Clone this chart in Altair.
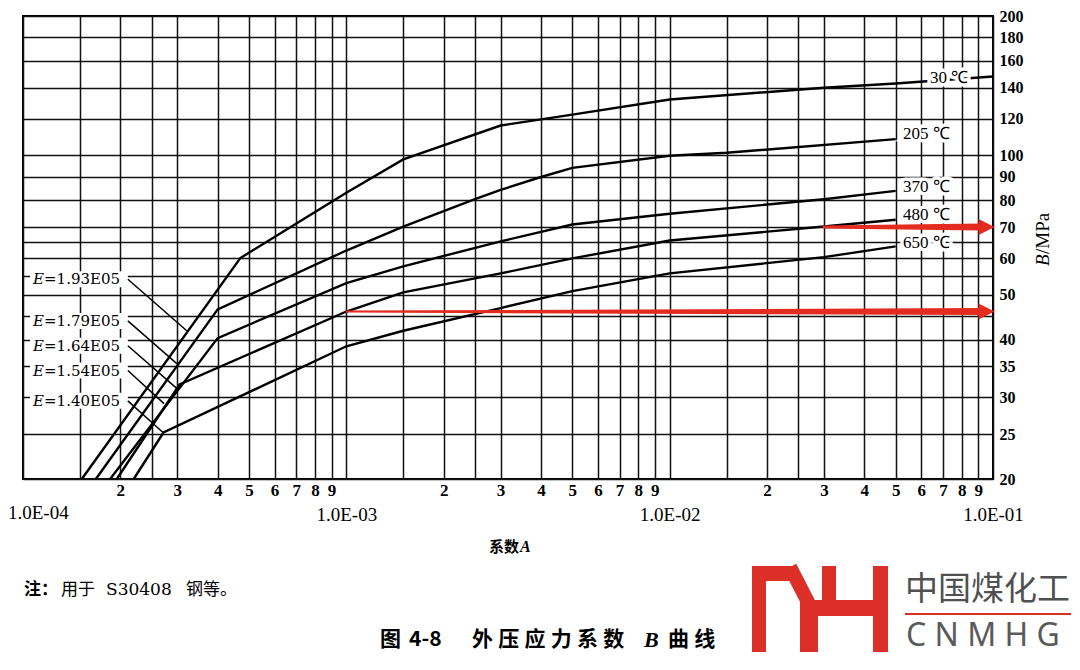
import json
import altair as alt
import pandas as pd

# ---------------- data ----------------
temp_labels = ["30 ℃", "205 ℃", "370 ℃", "480 ℃", "650 ℃"]
e_values = ["=1.93E05", "=1.79E05", "=1.64E05", "=1.54E05", "=1.40E05"]

A_30 = [1.52e-4, 4.7e-4, 1.0e-3, 1.5e-3, 3.0e-3, 4.0e-3, 5.0e-3, 1.0e-2, 3.0e-2, 5.0e-2, 1.0e-1]
B_30 = [20.0, 60.0, 83.0, 98.0, 116.0, 119.6, 122.5, 132.0, 140.0, 143.0, 148.0]
A_205 = [1.68e-4, 4.0e-4, 1.0e-3, 1.5e-3, 2.5e-3, 3.0e-3, 4.0e-3, 5.0e-3, 1.0e-2, 1.5e-2, 5.0e-2]
B_205 = [20.0, 46.5, 62.3, 70.2, 80.4, 84.2, 89.8, 94.0, 99.8, 101.3, 108.4]
A_370 = [1.86e-4, 4.0e-4, 1.0e-3, 1.5e-3, 3.0e-3, 5.0e-3, 1.0e-2, 3.0e-2, 5.0e-2]
B_370 = [20.0, 40.3, 53.0, 57.6, 65.2, 70.9, 74.8, 80.4, 83.8]
A_480 = [1.95e-4, 3.05e-4, 1.0e-3, 1.5e-3, 3.0e-3, 5.0e-3, 1.0e-2, 3.0e-2, 5.0e-2]
B_480 = [20.0, 32.0, 46.0, 50.6, 55.6, 59.9, 65.5, 70.2, 72.6]
A_650 = [2.2e-4, 2.72e-4, 1.0e-3, 1.5e-3, 3.0e-3, 5.0e-3, 1.0e-2, 3.0e-2, 5.0e-2]
B_650 = [20.0, 25.2, 38.7, 41.8, 46.8, 50.9, 55.6, 60.3, 63.6]

curve_A = [A_30, A_205, A_370, A_480, A_650]
curve_B = [B_30, B_205, B_370, B_480, B_650]

temp_label_A = [0.0638, 0.0527, 0.0527, 0.0527, 0.0527]
temp_label_B = [147.2, 111.1, 85.5, 74.5, 64.8]

e_label_A = 1.074e-4
e_label_B = [54.0, 43.9, 38.8, 34.3, 29.5]
e_leader_A0 = 2.11e-4
e_leader_A1 = [3.21e-4, 2.99e-4, 3.02e-4, 2.73e-4, 2.71e-4]
e_leader_B1 = [41.8, 35.5, 31.2, 29.1, 25.2]

arrow_B = [46.0, 70.0]
arrow_A0 = [1.0e-3, 3.0e-2]
arrow_A1 = 0.092
arrow_head_A = 0.0955
arrow_w0 = [2.0, 3.0]
arrow_w1 = 7.0

x_decades = [1e-4, 1e-3, 1e-2, 1e-1]
x_decade_labels = ["1.0E-04", "1.0E-03", "1.0E-02", "1.0E-01"]
x_mantissas = [1, 1.5, 2, 2.5, 3, 4, 5, 6, 7, 8, 9]
x_digit_labels = ["", "", "2", "", "3", "4", "5", "6", "7", "8", "9"]
y_grid_values = [20, 25, 30, 35, 40, 45, 50, 55, 60, 65, 70, 80, 90, 100, 120, 140, 160, 180, 200]
y_tick_labels = ["20", "25", "30", "35", "40", "", "50", "", "60", "", "70", "80", "90",
                 "100", "120", "140", "160", "180", "200"]

# ---------------- layout ----------------
W, H = 970, 463
OX, OY = 23, 16          # page position of the plot's top-left corner
def rx(px): return px - OX
def ry(py): return py - OY

RED = "#e42b20"
SERIF = "Liberation Serif"
CJK = "Noto Sans CJK SC"

# ---------------- axes ----------------
x_vals, x_labs = [], []
for d, dl in zip(x_decades[:-1], x_decade_labels[:-1]):
    for m, lab in zip(x_mantissas, x_digit_labels):
        x_vals.append(m * d)
        if m == 1:
            # the first decade label sits against the page edge: drawn separately below
            x_labs.append("" if d == x_decades[0] else ["", dl])
        else:
            x_labs.append(lab)
x_vals.append(x_decades[-1])
x_labs.append(["", x_decade_labels[-1]])

x_expr = "''"
for v, lab in reversed(list(zip(x_vals, x_labs))):
    x_expr = f"abs(datum.value / {v!r} - 1) < 1e-6 ? {json.dumps(lab)} : ({x_expr})"

y_expr = "''"
for v, lab in reversed(list(zip(y_grid_values, y_tick_labels))):
    y_expr = f"abs(datum.value / {v} - 1) < 1e-6 ? {json.dumps(lab)} : ({y_expr})"

is_dec = "abs(log(datum.value)/LN10 - round(log(datum.value)/LN10)) < 1e-6"

x_axis = alt.Axis(
    values=x_vals, labelExpr=x_expr, grid=True, gridColor="#111111", gridWidth=1.5,
    gridOpacity=1, ticks=False, domain=False, labelFlush=False, labelOverlap=False,
    labelFont=SERIF, labelColor="black", labelPadding=3, labelLineHeight=23,
    labelFontSize={"condition": {"test": is_dec, "value": 19}, "value": 17},
    labelFontWeight={"condition": {"test": is_dec, "value": "normal"}, "value": "bold"},
    title=None,
)
y_axis = alt.Axis(
    orient="right", values=y_grid_values, labelExpr=y_expr, grid=True, gridColor="#111111",
    gridWidth=1.5, gridOpacity=1, ticks=False, domain=False, labelFlush=False,
    labelOverlap=False, labelFont=SERIF, labelFontSize=16, labelFontWeight="bold",
    labelColor="black", labelPadding=6, title=None,
)
xs = alt.Scale(type="log", domain=[1e-4, 1e-1], nice=False)
ys = alt.Scale(type="log", domain=[20, 200], nice=False)

def X(field="A"):
    return alt.X(f"{field}:Q", scale=xs, axis=x_axis)
def Y(field="B"):
    return alt.Y(f"{field}:Q", scale=ys, axis=y_axis)

# ---------------- curves ----------------
rows = []
for t, aa, bb in zip(temp_labels, curve_A, curve_B):
    for i, (a, b) in enumerate(zip(aa, bb)):
        rows.append({"A": a, "B": b, "T": t, "i": i})
curves = alt.Chart(pd.DataFrame(rows)).mark_line(color="black", strokeWidth=2.4).encode(
    x=X(), y=Y(), detail="T:N", order="i:Q")

# ---------------- red arrows ----------------
arows = []
for k, (b, a0, w0) in enumerate(zip(arrow_B, arrow_A0, arrow_w0)):
    arows.append({"A": a0, "B": b, "w": w0, "id": k})
    arows.append({"A": arrow_A1, "B": b, "w": arrow_w1, "id": k})
trail = alt.Chart(pd.DataFrame(arows)).mark_trail(color=RED).encode(
    x=X(), y=Y(), size=alt.Size("w:Q", scale=None, legend=None), detail="id:N", order="A:Q")
heads = alt.Chart(pd.DataFrame({"A": [arrow_head_A] * len(arrow_B), "B": arrow_B})).mark_point(
    shape="M -1 -1 L 1 0 L -1 1 Z", filled=True, size=256, color=RED, opacity=1).encode(x=X(), y=Y())

# ---------------- temperature labels ----------------
tdf = pd.DataFrame({"A": temp_label_A, "B": temp_label_B, "t": temp_labels})
t_halo = alt.Chart(tdf).mark_text(align="left", baseline="middle", font=SERIF, fontSize=17,
                                  color="white", stroke="white", strokeWidth=7).encode(x=X(), y=Y(), text="t:N")
t_text = alt.Chart(tdf).mark_text(align="left", baseline="middle", font=SERIF, fontSize=17,
                                  color="black").encode(x=X(), y=Y(), text="t:N")

# ---------------- E labels with leaders ----------------
px_x = 10 ** (1 / 323.3)     # one pixel as a factor along the log x scale
px_y = 10 ** (1 / 463.0)     # one pixel as a factor along the log y scale
edf = pd.DataFrame({"A": [e_label_A] * 5, "B": e_label_B, "e": e_values,
                    "A0": [e_leader_A0] * 5, "A1": e_leader_A1, "B1": e_leader_B1,
                    "Abox": [e_label_A / px_x ** 3] * 5,
                    "Blo": [b / px_y ** 8 for b in e_label_B],
                    "Bhi": [b * px_y ** 8 for b in e_label_B]})
e_box = alt.Chart(edf).mark_rect(color="white").encode(
    x=X("Abox"), x2="A0:Q", y=Y("Blo"), y2="Bhi:Q")
leaders = alt.Chart(edf).mark_rule(color="black", strokeWidth=1.5).encode(
    x=X("A0"), x2="A1:Q", y=Y("B"), y2="B1:Q")
e_it = alt.Chart(edf).mark_text(align="left", baseline="middle", font="DejaVu Serif", fontSize=15,
                                fontStyle="italic", color="black").encode(x=X(), y=Y(), text=alt.value("E"))
e_txt = alt.Chart(edf).mark_text(align="left", baseline="middle", font="DejaVu Serif", fontSize=15,
                                 dx=11, color="black").encode(x=X(), y=Y(), text="e:N")

# ---------------- text outside the plot ----------------
one = alt.Data(values=[{}])
def ptext(txt, px, py, **kw):
    base = dict(align="left", baseline="middle", color="black")
    base.update(kw)
    return alt.Chart(one).mark_text(**base).encode(
        x=alt.value(rx(px)), y=alt.value(ry(py)), text=alt.value(txt))

first_decade = ptext(x_decade_labels[0], 8, 513, font=SERIF, fontSize=19)
ytitle = [
    ptext("B", 1043, 266, font=SERIF, fontSize=19, fontStyle="italic", angle=270),
    ptext("/MPa", 1043, 254, font=SERIF, fontSize=19, angle=270),
]
xtitle = [
    ptext("系数", 519, 547, font=CJK, fontSize=15, fontWeight="bold", align="right"),
    ptext("A", 520, 547, font=SERIF, fontSize=16, fontStyle="italic", fontWeight="bold"),
]
note = [
    ptext("注：", 24, 590, font=CJK, fontSize=17, fontWeight="bold"),
    ptext("用于", 61, 590, font=CJK, fontSize=17),
    ptext("S30408", 106, 590, font="DejaVu Serif", fontSize=17),
    ptext("钢等。", 186, 590, font=CJK, fontSize=17),
]
sp = "\u2005"
caption = [
    ptext("图", 380, 640, font=CJK, fontSize=21, fontWeight="bold"),
    ptext("4-8", 409, 640, font=CJK, fontSize=21, fontWeight="bold"),
    ptext(sp.join("外压应力系数"), 472, 640, font=CJK, fontSize=21, fontWeight="bold"),
    ptext("B", 644, 640, font=SERIF, fontSize=22, fontWeight="bold", fontStyle="italic"),
    ptext(sp.join("曲线"), 668, 640, font=CJK, fontSize=21, fontWeight="bold"),
]

# ---------------- logo (decoration) ----------------
LOGO_RED = "#dc2f27"
logo_rects = [(752, 566, 766, 652), (752, 566, 797, 581), (800, 600, 818, 652),
              (800, 600, 888, 616), (822, 566, 836, 616), (873, 566, 888, 652)]
logo = []
for (x0, y0, x1, y1) in logo_rects:
    logo.append(alt.Chart(one).mark_rect(color=LOGO_RED).encode(
        x=alt.value(rx(x0)), x2=alt.value(rx(x1)), y=alt.value(ry(y0)), y2=alt.value(ry(y1))))
logo.append(alt.Chart(one).mark_rule(color=LOGO_RED, strokeWidth=14, strokeCap="butt").encode(
    x=alt.value(rx(790)), x2=alt.value(rx(809)), y=alt.value(ry(567)), y2=alt.value(ry(604))))
logo.append(alt.Chart(one).mark_rule(color=LOGO_RED, strokeWidth=2).encode(
    x=alt.value(rx(905)), x2=alt.value(rx(1072)), y=alt.value(ry(614)), y2=alt.value(ry(614))))
logo.append(ptext("中国煤化工", 905, 600, font=CJK, fontSize=33, color="#505050", baseline="alphabetic"))
logo.append(ptext("C N M H G", 906, 636, font="Noto Sans", fontSize=32, color="#5a5a5a", baseline="middle"))

chart = alt.layer(
    curves, trail, heads, e_box, leaders, e_it, e_txt, t_halo, t_text, first_decade,
    *ytitle, *xtitle, *note, *caption, *logo,
).properties(
    width=W, height=H,
    padding={"left": 15, "top": 8, "right": 78, "bottom": 175},
    autosize=alt.AutoSizeParams(type="none"),
    background="white",
).configure_view(stroke="black", strokeWidth=2)

chart.save("out.html", embed_options={"renderer": "svg", "actions": False})
